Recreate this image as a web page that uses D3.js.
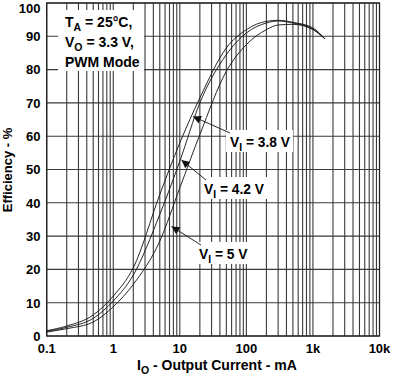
<!DOCTYPE html>
<html><head><meta charset="utf-8">
<script src="https://cdn.jsdelivr.net/npm/d3@7"></script>
<style>
html,body{margin:0;padding:0;background:#fff;}
svg{display:block;font-family:"Liberation Sans",Arial,sans-serif;font-weight:bold;}
</style></head>
<body>
<svg id="chart" width="401" height="382"></svg>
<script>
const currents = [0.1, 0.2, 0.5, 1, 2, 5, 10, 20, 50, 100, 200, 300, 500, 1000, 1500];
const eff38 = [1.6, 3.0, 6.3, 12.0, 20.5, 42.5, 58.0, 71.5, 86.5, 92.0, 94.5, 94.8, 94.2, 92.5, 89.3];
const eff42 = [1.4, 2.6, 5.3, 10.5, 18.3, 36.5, 52.5, 70.0, 84.5, 91.0, 94.0, 94.6, 94.0, 92.2, 89.3];
const eff50 = [1.2, 2.2, 4.2, 8.8, 15.5, 28.5, 44.5, 60.5, 79.5, 87.5, 92.0, 93.4, 93.6, 92.0, 89.3];
const seriesNames = ["V_I = 3.8 V", "V_I = 4.2 V", "V_I = 5 V"];
const xTickLabels = ["0.1", "1", "10", "100", "1k", "10k"];
const xTickValues = [0.1, 1, 10, 100, 1000, 10000];
const yTickValues = [0, 10, 20, 30, 40, 50, 60, 70, 80, 90, 100];

const svg = d3.select("#chart");
const L = 46.7, R = 379.5, T = 3, B = 336;
const x = d3.scaleLog().domain([0.1, 10000]).range([L, R]);
const y = d3.scaleLinear().domain([0, 100]).range([B, T]);
const gridColor = "#3a3a3a";
const ink = "#000";

// grid verticals
const vLines = [];
for (let d = 0.1; d < 10000; d *= 10) for (let k = 1; k <= 9; k++) vLines.push(+(d * k).toPrecision(3));
svg.append("g").selectAll("line").data(vLines).join("line")
  .attr("x1", d => x(d)).attr("x2", d => x(d)).attr("y1", T).attr("y2", B)
  .attr("stroke", gridColor).attr("stroke-width", 1.1);
svg.append("g").selectAll("line").data(yTickValues).join("line")
  .attr("x1", L).attr("x2", R).attr("y1", d => y(d)).attr("y2", d => y(d))
  .attr("stroke", gridColor).attr("stroke-width", 1.1);
svg.append("rect").attr("x", L).attr("y", T).attr("width", R - L).attr("height", B - T)
  .attr("fill", "none").attr("stroke", "#222").attr("stroke-width", 1.3);

// white box for conditions text
svg.append("rect").attr("x", 58).attr("y", 10).attr("width", 86).attr("height", 61).attr("fill", "#fff");
const cond = svg.append("g").attr("fill", ink);
function subText(g, xx, yy, main, sub, rest, size) {
  const t = g.append("text").attr("x", xx).attr("y", yy).attr("font-size", size);
  t.append("tspan").text(main);
  t.append("tspan").attr("dy", 3.5).attr("font-size", size * 0.75).text(sub);
  t.append("tspan").attr("dy", -3.5).text(rest);
  return t;
}
subText(cond, 65, 27, "T", "A", " = 25°C,", 14);
subText(cond, 65, 47, "V", "O", " = 3.3 V,", 14);
cond.append("text").attr("x", 65).attr("y", 67).attr("font-size", 14).text("PWM Mode");

// curves
const line = d3.line().x((d, i) => x(currents[i])).y(d => y(d)).curve(d3.curveMonotoneX);
[eff38, eff42, eff50].forEach(s => {
  svg.append("path").attr("d", line(s)).attr("fill", "none").attr("stroke", "#111").attr("stroke-width", 0.9);
});

// labels with arrows
const labels = [
  {name: seriesNames[0], bx: 226, by: 130, bw: 67, bh: 22, tx: 230, ty: 147, ax1: 230, ay1: 133, ax2: 193, ay2: 116.5},
  {name: seriesNames[1], bx: 201, by: 177, bw: 67, bh: 22, tx: 204, ty: 194, ax1: 206, ay1: 180, ax2: 181.5, ay2: 160},
  {name: seriesNames[2], bx: 196, by: 242, bw: 56, bh: 22, tx: 199, ty: 259, ax1: 201, ay1: 245, ax2: 171.5, ay2: 226.5}
];
const defs = svg.append("defs");
defs.append("marker").attr("id", "ah").attr("viewBox", "0 0 10 10").attr("refX", 10).attr("refY", 5)
  .attr("markerWidth", 10).attr("markerHeight", 8).attr("markerUnits", "userSpaceOnUse").attr("orient", "auto")
  .append("path").attr("d", "M0,0 L10,5 L0,10 Z").attr("fill", "#111");
labels.forEach(l => {
  svg.append("rect").attr("x", l.bx).attr("y", l.by).attr("width", l.bw).attr("height", l.bh).attr("fill", "#fff");
  svg.append("line").attr("x1", l.ax1).attr("y1", l.ay1).attr("x2", l.ax2).attr("y2", l.ay2)
    .attr("stroke", "#111").attr("stroke-width", 0.9).attr("marker-end", "url(#ah)");
  const parts = l.name.split("_");
  const rest = parts[1].slice(1);
  subText(svg, l.tx, l.ty, parts[0], parts[1][0], rest, 13.8).attr("fill", ink);
});

// axis tick labels
svg.append("g").selectAll("text").data(yTickValues).join("text")
  .attr("x", 40.5).attr("y", d => d === 100 ? 12.5 : y(d) + 4.8).attr("text-anchor", "end").attr("font-size", 13).attr("fill", ink)
  .text(d => d);
svg.append("g").selectAll("text").data(xTickValues).join("text")
  .attr("x", d => x(d)).attr("y", 353).attr("text-anchor", "middle").attr("font-size", 13).attr("fill", ink)
  .text((d, i) => xTickLabels[i]);

// axis titles
const xt = svg.append("text").attr("x", 137).attr("y", 370).attr("text-anchor", "start").attr("font-size", 14).attr("fill", ink);
xt.append("tspan").text("I");
xt.append("tspan").attr("dy", 3.5).attr("font-size", 10.5).text("O");
xt.append("tspan").attr("dy", -3.5).text(" - Output Current - mA");
svg.append("text").attr("transform", "translate(12,170) rotate(-90)").attr("text-anchor", "middle")
  .attr("font-size", 13).attr("fill", ink).text("Efficiency - %");
</script>
</body></html>
